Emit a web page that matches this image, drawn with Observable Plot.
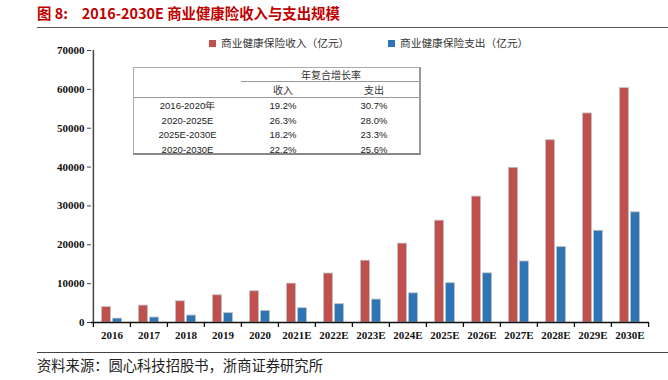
<!DOCTYPE html>
<html><head><meta charset="utf-8">
<script src="https://cdn.jsdelivr.net/npm/d3@7"></script>
<script src="https://cdn.jsdelivr.net/npm/@observablehq/plot@0.6"></script>
<style>
  html,body{margin:0;padding:0;background:#fff;}
  #wrap{position:relative;width:668px;height:380px;overflow:hidden;font-family:"Noto Sans CJK SC",sans-serif;}
  .title{position:absolute;left:37px;top:3px;font-size:14.4px;font-weight:bold;color:#C00000;white-space:nowrap;line-height:20px;}
  .title .num{margin-right:14px;}
  .hr{position:absolute;left:37px;right:0;height:0;border-top:1.5px solid #555;}
  .legend{position:absolute;top:35px;font-size:10.7px;color:#333;white-space:nowrap;line-height:16px;}
  .legend i{display:inline-block;width:7px;height:7px;margin-right:5px;vertical-align:0px;}
  .source{position:absolute;left:37px;top:356px;font-size:14.3px;color:#222;white-space:nowrap;line-height:18px;}
  #chart{position:absolute;left:0;top:40px;}
  #tbl{position:absolute;left:133px;top:67px;width:288px;height:88px;border:1px solid #aaa;border-right:2px solid #999;border-bottom:2px solid #888;box-sizing:border-box;background:#fff;}
  #tbl div{position:absolute;white-space:nowrap;color:#222;transform:translateX(-50%);}
  #tbl .n{font-family:"Liberation Sans",Arial,sans-serif;font-size:9.5px;line-height:12px;}
  #tbl .c{font-size:10px;line-height:12px;color:#333;}
  #tbl .ln{position:absolute;height:0;border-top:1.3px solid #999;transform:none;}
</style></head>
<body><div id="wrap">
  <div class="title"><span class="num">图 8:</span>2016-2030E 商业健康险收入与支出规模</div>
  <div class="hr" style="top:27px"></div>
  <div class="legend" id="leg1" style="left:209px"></div>
  <div class="legend" id="leg2" style="left:388px"></div>
  <div id="chart"></div>
  <div id="tbl"></div>
  <div class="hr" style="top:352px;border-top:1px solid #444"></div>
  <div class="source">资料来源：圆心科技招股书，浙商证券研究所</div>
</div>
<script>
const years = ["2016","2017","2018","2019","2020","2021E","2022E","2023E","2024E","2025E","2026E","2027E","2028E","2029E","2030E"];
const income = [3950, 4350, 5450, 7000, 8030, 10000, 12600, 15900, 20300, 26200, 32400, 39800, 46900, 53800, 60300];
const expense = [1000, 1280, 1790, 2390, 2980, 3670, 4700, 5900, 7500, 10100, 12650, 15700, 19400, 23600, 28350];
const seriesNames = ["商业健康保险收入（亿元）", "商业健康保险支出（亿元）"];
const seriesColors = ["#C0504D", "#2E75B6"];
const yTicks = [0, 10000, 20000, 30000, 40000, 50000, 60000, 70000];

const cagrPeriods = ["2016-2020年", "2020-2025E", "2025E-2030E", "2020-2030E"];
const cagrIncome = ["19.2%", "26.3%", "18.2%", "22.2%"];
const cagrExpense = ["30.7%", "28.0%", "23.3%", "25.6%"];
const cagrHeader = "年复合增长率";
const cagrCols = ["收入", "支出"];

const data = years.map((y, i) => ({year: y, income: income[i], expense: expense[i]}));

const W = 668, ML = 91, MR = 19;
const half = (W - ML - MR) / years.length / 2;

const chart = Plot.plot({
  width: W, height: 302,
  marginLeft: ML, marginRight: MR, marginTop: 10, marginBottom: 20,
  style: {fontFamily: "'Liberation Serif', 'Times New Roman', serif", fontSize: "11px", fontWeight: "bold", color: "#111", background: "transparent"},
  x: {domain: years, padding: 0, axis: null, label: null},
  y: {domain: [0, 70000], axis: null, label: null},
  marks: [
    Plot.barY(data, {x: "year", y: "income", fill: seriesColors[0], insetLeft: half - 10, insetRight: half + 1, stroke: "#bdbdbd", strokeWidth: 0.8}),
    Plot.barY(data, {x: "year", y: "expense", fill: seriesColors[1], insetLeft: half + 1, insetRight: half - 10, stroke: "#bdbdbd", strokeWidth: 0.8}),
    Plot.axisY({ticks: yTicks, tickSize: 4, tickPadding: 3, tickFormat: d => String(d), stroke: "#444", label: null}),
    Plot.ruleX([years[0]], {dx: -half, stroke: "#444", strokeWidth: 1.5}),
    Plot.ruleY([0], {stroke: "#111", strokeWidth: 1.5}),
    Plot.axisX({ticks: years, tickSize: 5, tickFormat: () => "", dx: -half, stroke: "#111", strokeWidth: 1.3, label: null}),
    Plot.axisX([years[years.length - 1]], {tickSize: 5, tickFormat: () => "", dx: half, stroke: "#111", strokeWidth: 1.3, label: null}),
    Plot.axisX({ticks: years, tickSize: 0, tickPadding: 9, label: null})
  ]
});
document.getElementById("chart").appendChild(chart);

document.getElementById("leg1").innerHTML = `<i style="background:${seriesColors[0]}"></i>${seriesNames[0]}`;
document.getElementById("leg2").innerHTML = `<i style="background:${seriesColors[1]}"></i>${seriesNames[1]}`;

// table
const tbl = document.getElementById("tbl");
const colX = [53.5, 149, 240];
let html = `<div class="c" style="left:197px;top:1px">${cagrHeader}</div>`;
html += `<div class="ln" style="left:107px;right:0;top:13px"></div>`;
html += `<div class="c" style="left:${colX[1]}px;top:16px">${cagrCols[0]}</div>`;
html += `<div class="c" style="left:${colX[2]}px;top:16px">${cagrCols[1]}</div>`;
html += `<div class="ln" style="left:0;right:0;top:29px"></div>`;
cagrPeriods.forEach((p, i) => {
  const t = 32 + i * 14.6;
  html += `<div class="n" style="left:${colX[0]}px;top:${t}px">${p}</div>`;
  html += `<div class="n" style="left:${colX[1]}px;top:${t}px">${cagrIncome[i]}</div>`;
  html += `<div class="n" style="left:${colX[2]}px;top:${t}px">${cagrExpense[i]}</div>`;
});
tbl.innerHTML = html;
</script>
</body></html>
